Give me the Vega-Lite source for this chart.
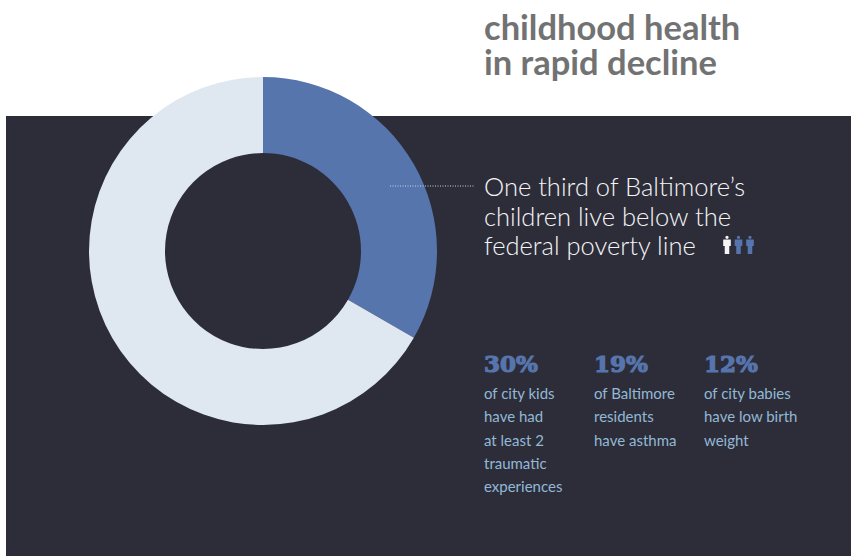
{
  "$schema": "https://vega.github.io/schema/vega-lite/v6.json",
  "width": 845,
  "height": 440,
  "autosize": "none",
  "padding": {"left": 6, "top": 116, "right": 0, "bottom": 0},
  "background": "#ffffff",
  "view": {"fill": "#2d2d39", "stroke": null},
  "title": {
    "text": ["childhood health", "in rapid decline"],
    "anchor": "start",
    "frame": "group",
    "dx": 478,
    "offset": 0,
    "dy": 32,
    "font": "Lato",
    "fontSize": 34.5,
    "fontWeight": 700,
    "color": "#727273",
    "lineHeight": 35,
    "baseline": "alphabetic"
  },
  "datasets": {
    "share": [
      {"group": "Below the poverty line", "percent": 33.3},
      {"group": "Above the poverty line", "percent": 66.7}
    ],
    "lead": [
      {"row": 1, "line": "One third of Baltimore’s"},
      {"row": 2, "line": "children live below the"},
      {"row": 3, "line": "federal poverty line"}
    ],
    "people": [
      {"person": 1, "group": "Above"},
      {"person": 2, "group": "Below"},
      {"person": 3, "group": "Below"}
    ],
    "stats": [
      {"stat": "30%", "row": 0},
      {"stat": "19%", "row": 0},
      {"stat": "12%", "row": 0}
    ],
    "captions": [
      {"stat": "30%", "row": 1, "line": "of city kids"},
      {"stat": "30%", "row": 2, "line": "have had"},
      {"stat": "30%", "row": 3, "line": "at least 2"},
      {"stat": "30%", "row": 4, "line": "traumatic"},
      {"stat": "30%", "row": 5, "line": "experiences"},
      {"stat": "19%", "row": 1, "line": "of Baltimore"},
      {"stat": "19%", "row": 2, "line": "residents"},
      {"stat": "19%", "row": 3, "line": "have asthma"},
      {"stat": "12%", "row": 1, "line": "of city babies"},
      {"stat": "12%", "row": 2, "line": "have low birth"},
      {"stat": "12%", "row": 3, "line": "weight"}
    ]
  },
  "layer": [
    {
      "data": {"name": "share"},
      "mark": {"type": "arc", "radius": 174, "radius2": 98, "x": 257, "y": 135},
      "encoding": {
        "theta": {"field": "percent", "type": "quantitative", "stack": true},
        "order": {"field": "percent", "type": "quantitative"},
        "color": {
          "field": "group",
          "type": "nominal",
          "legend": null,
          "scale": {
            "domain": ["Below the poverty line", "Above the poverty line"],
            "range": ["#5775ad", "#dfe7f0"]
          }
        }
      }
    },
    {
      "data": {"values": [{"from": 384, "to": 469}]},
      "mark": {"type": "rule", "stroke": "#c9d3e2", "strokeWidth": 1, "strokeDash": [1, 1.5]},
      "encoding": {
        "x": {"field": "from", "type": "quantitative", "axis": null, "scale": {"domain": [0, 845], "range": [0, 845]}},
        "x2": {"field": "to"},
        "y": {"value": 70}
      }
    },
    {
      "data": {"name": "lead"},
      "mark": {"type": "text", "align": "left", "baseline": "middle", "font": "Lato", "fontSize": 25.5, "fontWeight": 300, "color": "#f4f5f7", "x": 478},
      "encoding": {
        "y": {"field": "row", "type": "quantitative", "axis": null, "scale": {"domain": [1, 3], "range": [72, 131]}},
        "text": {"field": "line"}
      }
    },
    {
      "data": {"name": "people"},
      "mark": {
        "type": "point",
        "filled": true,
        "opacity": 1,
        "size": 330,
        "y": 129,
        "shape": "M-0.18,-0.85 A0.18,0.18 0 1 1 0.18,-0.85 A0.18,0.18 0 1 1 -0.18,-0.85 Z M-0.42,-0.6 L0.42,-0.6 L0.42,0.1 L0.25,0.1 L0.25,1 L-0.25,1 L-0.25,0.1 L-0.42,0.1 Z"
      },
      "encoding": {
        "x": {"field": "person", "type": "ordinal", "axis": null, "scale": {"type": "point", "padding": 0, "range": [721, 744]}},
        "color": {"field": "group", "type": "nominal", "legend": null, "scale": {"domain": ["Above", "Below"], "range": ["#f4f5f7", "#5775ad"]}}
      }
    },
    {
      "data": {"name": "stats"},
      "mark": {"type": "text", "align": "left", "baseline": "middle", "dy": -6, "font": "DejaVu Serif", "fontSize": 23, "fontWeight": 900, "color": "#5775ad", "stroke": "#5775ad", "strokeWidth": 1.2},
      "encoding": {
        "x": {"field": "stat", "type": "nominal", "axis": null, "sort": null, "scale": {"type": "point", "padding": 0, "range": [478, 698]}},
        "y": {"field": "row", "type": "quantitative", "axis": null, "scale": {"domain": [1, 5], "range": [278, 371]}},
        "text": {"field": "stat"}
      }
    },
    {
      "data": {"name": "captions"},
      "mark": {"type": "text", "align": "left", "baseline": "middle", "font": "Lato", "fontSize": 15, "fontWeight": 400, "color": "#92b8d6"},
      "encoding": {
        "x": {"field": "stat", "type": "nominal", "axis": null, "sort": null, "scale": {"type": "point", "padding": 0, "range": [478, 698]}},
        "y": {"field": "row", "type": "quantitative", "axis": null, "scale": {"domain": [1, 5], "range": [278, 371]}},
        "text": {"field": "line"}
      }
    }
  ],
  "resolve": {"scale": {"x": "independent", "y": "independent", "color": "independent"}}
}
